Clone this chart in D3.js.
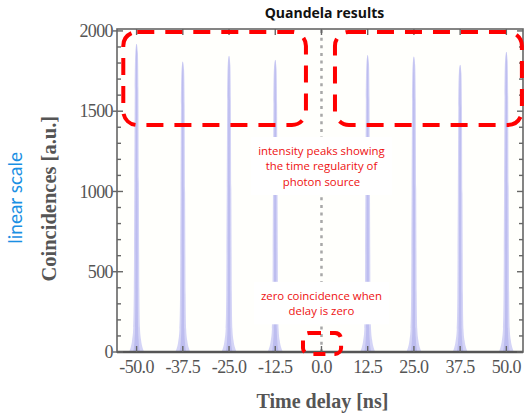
<!DOCTYPE html>
<html><head><meta charset="utf-8">
<script src="https://cdn.jsdelivr.net/npm/d3@7/dist/d3.min.js"></script>
<style>html,body{margin:0;padding:0;background:#fff;}svg{display:block;}</style>
</head><body>
<svg id="chart" width="527" height="414"></svg>
<script>
// ---- data ----
const xTickValues = [-50, -37.5, -25, -12.5, 0, 12.5, 25, 37.5, 50];
const peakDelays = [-50, -37.5, -25, -12.5, 12.5, 25, 37.5, 50];
const peakHeights = [1920, 1810, 1845, 1820, 1850, 1840, 1790, 1870];
const yTickValues = [0, 500, 1000, 1500, 2000];
const yMinorValues = d3.range(0, 2001, 100);
// peak line-shape: offset (ns) and fraction of peak height
const profileOffsets = [-2.1, -1.6, -1.2, -0.9, -0.75, -0.62, -0.5, -0.35, 0, 0.35, 0.5, 0.62, 0.75, 0.9, 1.2, 1.6, 2.1];
const profileFractions = [0, 0.015, 0.04, 0.08, 0.2, 0.55, 0.85, 0.97, 1, 0.97, 0.85, 0.55, 0.2, 0.08, 0.04, 0.015, 0];
const annoPeaksText = ["intensity peaks showing", "the time regularity of", "photon source"];
const annoZeroText = ["zero coincidence when", "delay is zero"];

const svg = d3.select("#chart");
const x = d3.scaleLinear().domain([-55.3, 54.5]).range([117, 523]);
const y = d3.scaleLinear().domain([0, 2012]).range([352, 29]);

// plot background
svg.append("rect").attr("x", x(-55.3)).attr("y", y(2012))
  .attr("width", x(54.5) - x(-55.3)).attr("height", y(0) - y(2012)).attr("fill", "#fffffc");

// peaks
const area = d3.area().x(d => x(d[0])).y0(y(0)).y1(d => y(d[1])).curve(d3.curveMonotoneX);
const peaks = peakDelays.map((t, i) => profileOffsets.map((o, j) => [t + o, peakHeights[i] * profileFractions[j]]));
svg.append("g").selectAll("path").data(peaks).join("path")
  .attr("d", area).attr("fill", "#d4d4f6");
const inner = peakDelays.map((t, i) => profileOffsets.map((o, j) => [t + o * 0.45, peakHeights[i] * profileFractions[j]]));
svg.append("g").selectAll("path").data(inner).join("path")
  .attr("d", area).attr("fill", "#bdbdef");

// zero-delay dotted line
svg.append("line").attr("x1", x(0)).attr("x2", x(0)).attr("y1", y(2005)).attr("y2", y(0))
  .attr("stroke", "#a8a8a8").attr("stroke-width", 2.5).attr("stroke-dasharray", "3,4.6");

// frame
const axisColor = "#666";
svg.append("rect").attr("x", x(-55.3)).attr("y", y(2012))
  .attr("width", x(54.5) - x(-55.3)).attr("height", y(0) - y(2012))
  .attr("fill", "none").attr("stroke", axisColor).attr("stroke-width", 1.6);
svg.append("line").attr("x1", x(-55.3)).attr("x2", x(54.5)).attr("y1", y(0)).attr("y2", y(0))
  .attr("stroke", "#555").attr("stroke-width", 2.4);

// y ticks (left and right)
const tg = svg.append("g").attr("stroke", axisColor).attr("stroke-width", 1.4);
yMinorValues.forEach(v => {
  const major = v % 500 === 0;
  tg.append("line").attr("x1", x(-55.3) - (major ? 4 : 0)).attr("x2", x(-55.3) + (major ? 6 : 4))
    .attr("y1", y(v)).attr("y2", y(v));
  tg.append("line").attr("x1", x(54.5)).attr("x2", x(54.5) - (major ? 6 : 4))
    .attr("y1", y(v)).attr("y2", y(v));
});
// x ticks (top and bottom)
xTickValues.forEach(v => {
  tg.append("line").attr("x1", x(v)).attr("x2", x(v)).attr("y1", y(2012)).attr("y2", y(2012) + 6);
  tg.append("line").attr("x1", x(v)).attr("x2", x(v)).attr("y1", y(0)).attr("y2", y(0) - 6);
});

// tick labels
const serif = "'Liberation Serif','Times New Roman',serif";
svg.append("g").selectAll("text").data(yTickValues).join("text")
  .attr("x", x(-55.3) - 4).attr("y", d => y(d)).attr("dy", "0.35em")
  .attr("text-anchor", "end").attr("font-family", serif).attr("font-size", 18)
  .attr("fill", "#555").attr("letter-spacing", -0.6).text(d => d);
svg.append("g").selectAll("text").data(xTickValues).join("text")
  .attr("x", d => x(d)).attr("y", y(0) + 21)
  .attr("text-anchor", "middle").attr("font-family", serif).attr("font-size", 18)
  .attr("fill", "#555").attr("letter-spacing", -0.6).text(d => d3.format(".1f")(d).replace("\u2212", "-"));

// axis titles
svg.append("text").attr("x", x(0) + 1).attr("y", 408)
  .attr("text-anchor", "middle").attr("font-family", serif).attr("font-size", 20)
  .attr("font-weight", "bold").attr("fill", "#555").text("Time delay [ns]");
svg.append("text").attr("transform", `translate(56,${y(955)}) rotate(-90)`)
  .attr("text-anchor", "middle").attr("font-family", serif).attr("font-size", 20.5)
  .attr("font-weight", "bold").attr("fill", "#555").text("Coincidences [a.u.]");
svg.append("text").attr("transform", `translate(22,${y(960)}) rotate(-90)`)
  .attr("text-anchor", "middle").attr("font-family", "Lato,'Open Sans',sans-serif").attr("font-size", 19)
  .attr("fill", "#1a8fe3").text("linear scale");

// title
svg.append("text").attr("x", x(0) + 3).attr("y", 18)
  .attr("text-anchor", "middle").attr("font-family", "'Open Sans',sans-serif").attr("font-size", 14)
  .attr("font-weight", "bold").attr("fill", "#111").text("Quandela results");

// annotations
function annotate(lines, v0) {
  const g = svg.append("g");
  const bg = g.append("rect").attr("fill", "#fff");
  const t = g.append("g");
  lines.forEach((s, i) => {
    t.append("text").attr("x", x(0)).attr("y", y(v0) + i * 15.5).attr("dy", "0.35em")
      .attr("text-anchor", "middle").attr("font-family", "'Open Sans',sans-serif")
      .attr("font-size", 11.4).attr("fill", "#ee1111").text(s);
  });
  const b = t.node().getBBox();
  bg.attr("x", b.x - 7).attr("y", b.y - 6).attr("width", b.width + 14).attr("height", b.height + 12);
}
annotate(annoPeaksText, 1252);
annotate(annoZeroText, 350);

// red dashed boxes (data units)
const boxes = [
  {x0: -53.6, x1: -4.2, v0: 1414, v1: 1994, r: 14},
  {x0: 3.65, x1: 54.2, v0: 1414, v1: 1994, r: 14},
  {x0: -5.0, x1: 5.3, v0: -12, v1: 118, r: 6}
];
svg.append("g").selectAll("rect").data(boxes).join("rect")
  .attr("x", d => x(d.x0)).attr("y", d => y(d.v1))
  .attr("width", d => x(d.x1) - x(d.x0)).attr("height", d => y(d.v0) - y(d.v1))
  .attr("rx", d => d.r).attr("fill", "none").attr("stroke", "#ff0000")
  .attr("stroke-width", 4).attr("stroke-dasharray", d => d.r > 10 ? "17,11" : "12,9");
</script>
</body></html>
